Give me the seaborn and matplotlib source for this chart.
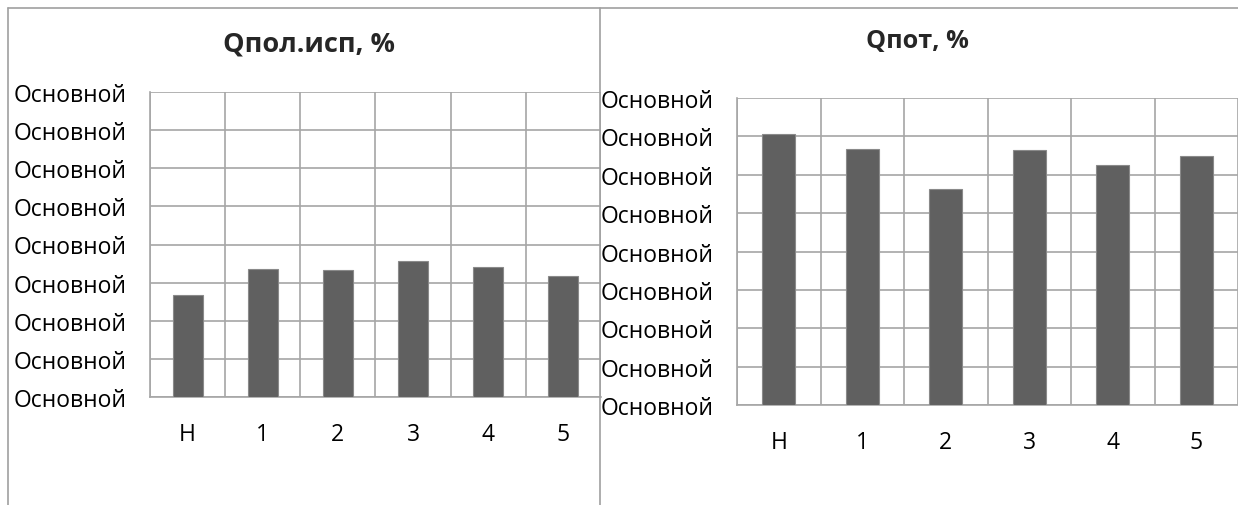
import matplotlib
matplotlib.use("Agg")
import matplotlib.pyplot as plt
from matplotlib.lines import Line2D
import seaborn as sns
import pandas as pd

# Stage labels shared by both charts
stages = ["Н", "1", "2", "3", "4", "5"]

# Qпол.исп, % per stage
q_pol_isp = [26.8, 33.6, 33.3, 35.7, 34.1, 31.8]
# Qпот, % per stage
q_pot = [70.6, 66.7, 56.3, 66.4, 62.5, 64.8]

# Both axes carry the same (unformatted) tick label text
tick_text = "Основной"
y_ticks_left = [0, 10, 20, 30, 40, 50, 60, 70, 80]
y_ticks_right = [0, 10, 20, 30, 40, 50, 60, 70, 80]

sns.set_theme(style="white")
plt.rcParams["font.family"] = ["Open Sans", "DejaVu Sans"]

W, H = 1238, 506
fig = plt.figure(figsize=(W / 100, H / 100), dpi=100)
fig.patch.set_facecolor("white")

BAR = "#606060"
GRID = "#a6a6a6"
BORDER = "#a0a0a0"
LABEL_SIZE = 16.5


def panel(rect, values, yticks, title, title_xy, title_size):
    ax = fig.add_axes(rect)
    df = pd.DataFrame({"stage": stages, "value": values})
    sns.barplot(data=df, x="stage", y="value", ax=ax, color=BAR,
                width=0.4, saturation=1, edgecolor="#8a8a8a", linewidth=0.8,
                zorder=3)
    ax.set_xlim(-0.5, len(stages) - 0.5)
    ax.set_ylim(yticks[0], yticks[-1])
    ax.set_yticks(yticks)
    ax.set_yticklabels([tick_text] * len(yticks))
    ax.set_xlabel("")
    ax.set_ylabel("")
    # category boundaries as minor ticks carry the vertical grid
    ax.set_xticks([i - 0.5 for i in range(len(stages) + 1)], minor=True)
    ax.tick_params(axis="x", which="major", length=0, pad=18,
                   labelsize=LABEL_SIZE, colors="black")
    ax.tick_params(axis="x", which="minor", length=8, width=1.2,
                   color=GRID, direction="out")
    ax.tick_params(axis="y", which="major", length=7, width=1.2, color=GRID,
                   direction="out", pad=10, labelsize=LABEL_SIZE,
                   labelcolor="black")
    ax.grid(axis="y", which="major", color=GRID, linewidth=1.2, zorder=0)
    ax.grid(axis="x", which="minor", color=GRID, linewidth=1.2, zorder=0)
    ax.grid(axis="x", which="major", visible=False)
    for side in ("top", "right"):
        ax.spines[side].set_visible(False)
    for side in ("left", "bottom"):
        ax.spines[side].set_color(GRID)
        ax.spines[side].set_linewidth(1.2)
    ax.set_axisbelow(True)
    fig.text(title_xy[0] / W, 1 - title_xy[1] / H, title, ha="center",
             va="center", fontsize=title_size, fontweight="bold")
    return ax


panel([150 / W, 1 - 398 / H, 451 / W, 305 / H], q_pol_isp, y_ticks_left,
      "Qпол.исп, %", (309, 45), 19.5)
panel([737 / W, 1 - 406 / H, 501 / W, 307 / H], q_pot, y_ticks_right,
      "Qпот, %", (917, 41), 18.2)

# chart frames
fig.add_artist(Line2D([8 / W, 1], [1 - 9 / H, 1 - 9 / H], color=BORDER,
                      linewidth=1.2, transform=fig.transFigure))
fig.add_artist(Line2D([8 / W, 8 / W], [0, 1 - 9 / H], color=BORDER,
                      linewidth=1.2, transform=fig.transFigure))
fig.add_artist(Line2D([600 / W, 600 / W], [0, 1 - 9 / H], color=BORDER,
                      linewidth=1.2, transform=fig.transFigure))

fig.savefig("out.png", dpi=100, facecolor="white")
